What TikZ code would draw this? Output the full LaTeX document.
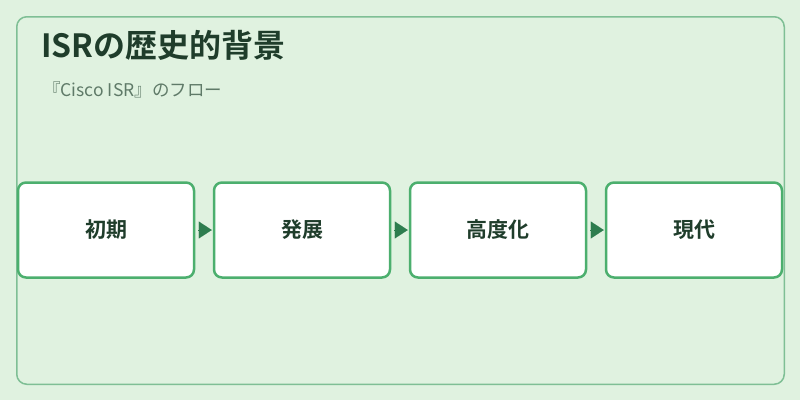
\documentclass[tikz,border=0pt]{standalone}
\usepackage{fontspec}
\setmainfont{Noto Sans CJK JP}
\newfontfamily\jpbold{Noto Sans CJK JP Bold}
\usetikzlibrary{arrows.meta}
\definecolor{bgc}{HTML}{E0F2E0}
\definecolor{framec}{HTML}{7FBF95}
\definecolor{boxc}{HTML}{4CAF6E}
\definecolor{arrc}{HTML}{2E7D4F}
\definecolor{titlec}{HTML}{1F3D2B}
\definecolor{subc}{HTML}{5F7A68}
\tikzset{
  stepbox/.style={draw=boxc, line width=2.5pt, fill=white, rounded corners=8pt,
    minimum width=176pt, minimum height=95pt, inner sep=0pt,
    font=\jpbold\fontsize{21pt}{24pt}\selectfont, text=titlec},
  arr/.style={draw=arrc, line width=0.1pt, -{Triangle[length=13pt,width=17pt,fill=arrc]}},
}
\begin{document}
\begin{tikzpicture}[x=1pt,y=-1pt]
\useasboundingbox (0,0) rectangle (800,400);
\fill[bgc] (0,0) rectangle (800,400);
\draw[framec, line width=1.5pt, rounded corners=10pt] (16.75,16.75) rectangle (784.25,384.25);
\node[anchor=base west, inner sep=0pt, text=titlec, font=\jpbold\fontsize{32pt}{35pt}\selectfont] (title) at (41,57.5) {ISRの歴史的背景};
\node[anchor=base west, inner sep=0pt, text=subc, font=\fontsize{17.5pt}{20pt}\selectfont] (sub) at (43,96) {『Cisco ISR』のフロー};
\node[stepbox] (b1) at (106,230) {初期};
\node[stepbox] (b2) at (302,230) {発展};
\node[stepbox] (b3) at (498,230) {高度化};
\node[stepbox] (b4) at (694,230) {現代};
\draw[arr] ([xshift=3pt]b1.east) -- ([xshift=-1pt]b2.west);
\draw[arr] ([xshift=3pt]b2.east) -- ([xshift=-1pt]b3.west);
\draw[arr] ([xshift=3pt]b3.east) -- ([xshift=-1pt]b4.west);
\end{tikzpicture}
\end{document}
